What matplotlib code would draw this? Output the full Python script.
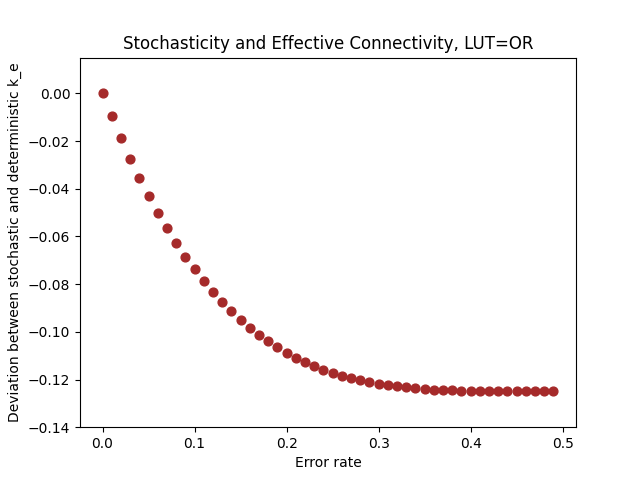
import matplotlib
matplotlib.use('Agg')
import matplotlib.pyplot as plt

error_rate = [i / 100 for i in range(50)]
deviation = [0.0, -0.0097, -0.0188, -0.0274, -0.0355, -0.0430, -0.0500, -0.0566,
             -0.0628, -0.0685, -0.0738, -0.0787, -0.0833, -0.0875, -0.0914, -0.0950,
             -0.0983, -0.1013, -0.1040, -0.1065, -0.1088, -0.1109, -0.1127, -0.1144,
             -0.1159, -0.1172, -0.1184, -0.1194, -0.1203, -0.1211, -0.1218, -0.1224,
             -0.1229, -0.1233, -0.1237, -0.1240, -0.1242, -0.1244, -0.1246, -0.1247,
             -0.1248, -0.1249, -0.1249, -0.1250, -0.1250, -0.1250, -0.1250, -0.1250,
             -0.1250, -0.1250]

fig, ax = plt.subplots(figsize=(6.4, 4.8), dpi=100)
ax.scatter(error_rate, deviation, color='brown', s=40)
ax.set_ylim(-0.14, 0.015)
ax.set_xlabel('Error rate')
ax.set_ylabel('Deviation between stochastic and deterministic k_e')
ax.set_title('Stochasticity and Effective Connectivity, LUT=OR')
fig.savefig('out.png')
